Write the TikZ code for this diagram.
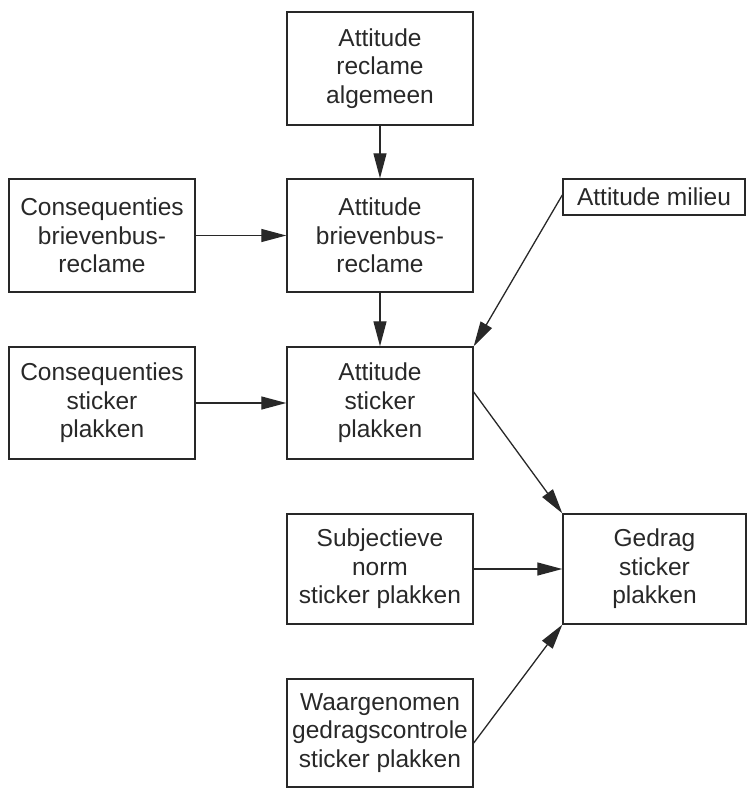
\documentclass[tikz,border=0pt]{standalone}
\usepackage{fontspec}
\setmainfont{Liberation Sans}
\usetikzlibrary{arrows.meta}
\definecolor{ink}{RGB}{40,40,40}
\begin{document}
\begin{tikzpicture}[x=1pt,y=-1pt,
  box/.style={draw=ink,line width=1.4pt,text=ink,align=center,inner sep=0pt,
    font=\fontsize{24.5}{28.5}\selectfont,minimum width=186pt,minimum height=113pt},
  arr/.style={draw=ink,line width=1.3pt,-{Triangle[length=25pt,width=13pt]}}]
\useasboundingbox (0,0) rectangle (748,788);
\node[box] (b1) at (380,68.5) {Attitude\\reclame\\algemeen};
\node[box] (b2) at (380,235.5) {Attitude\\brievenbus-\\reclame};
\node[box] (cb) at (102,235.5) {Consequenties\\brievenbus-\\reclame};
\node[box,minimum width=182pt,minimum height=36pt] (am) at (654,197) {Attitude milieu};
\node[box,minimum height=112pt] (cs) at (102,403) {Consequenties\\sticker\\plakken};
\node[box,minimum height=112pt] (as) at (380,403) {Attitude\\sticker\\plakken};
\node[box,minimum height=110pt] (sn) at (380,569) {Subjectieve\\norm\\sticker plakken};
\node[box,minimum width=183pt,minimum height=110pt] (gd) at (654.5,569) {Gedrag\\sticker\\plakken};
\node[box,minimum height=108pt] (wg) at (380,733) {Waargenomen\\gedragscontrole\\sticker plakken};
\draw[arr] (b1.south) -- (b2.north);
\draw[arr] (cb.east) -- (b2.west);
\draw[arr] (b2.south) -- (as.north);
\draw[arr] ([yshift=2pt]am.west) -- (as.north east);
\draw[arr] (cs.east) -- (as.west);
\draw[arr] ([yshift=11pt]as.east) -- (gd.north west);
\draw[arr] (sn.east) -- (gd.west);
\draw[arr] ([yshift=-10pt]wg.east) -- (gd.south west);
\end{tikzpicture}
\end{document}
